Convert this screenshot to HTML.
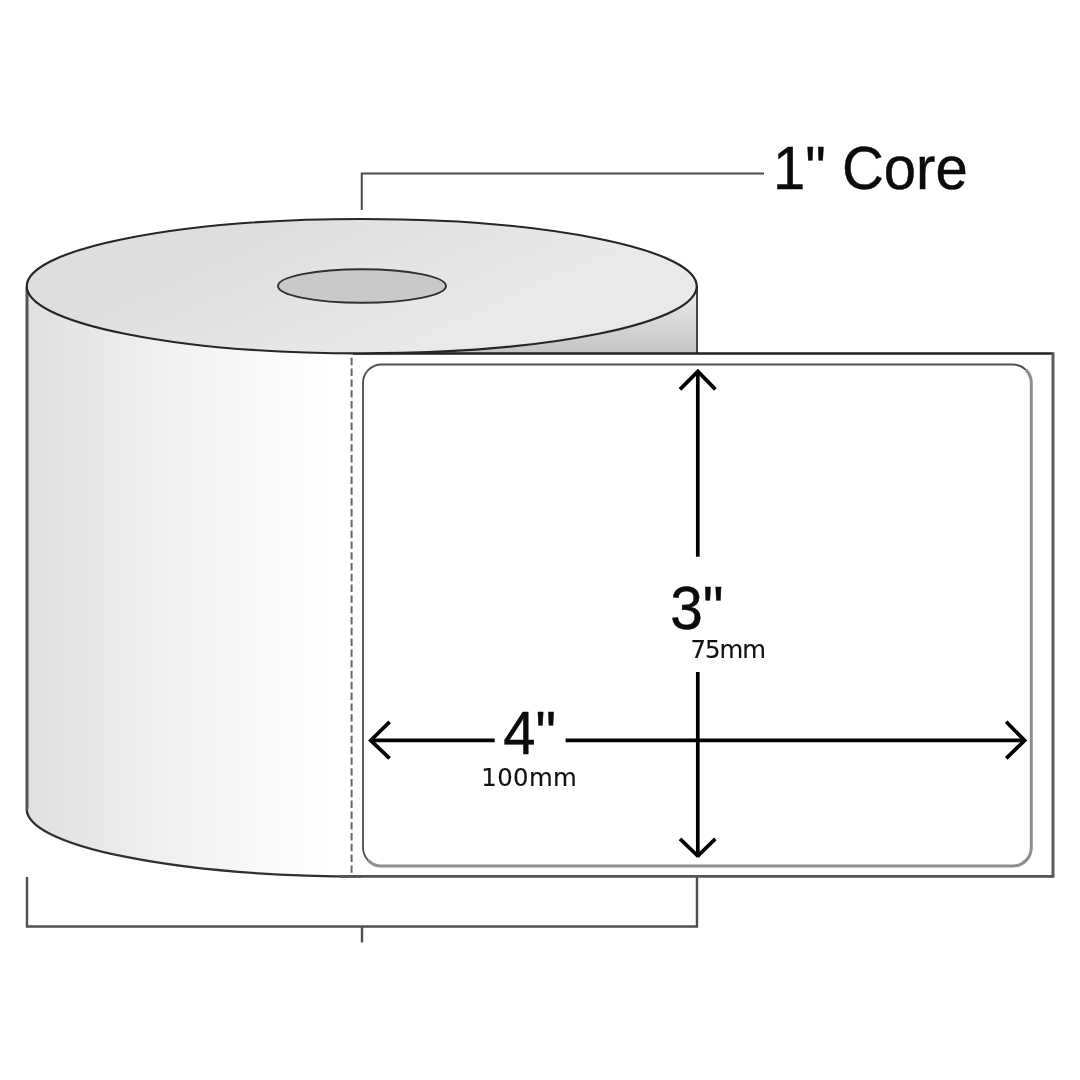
<!DOCTYPE html>
<html lang="en">
<head>
<meta charset="utf-8">
<title>Label roll 4" x 3" – 1" Core</title>
<style>
html,body{margin:0;padding:0;background:#fff;}
body{width:1080px;height:1080px;overflow:hidden;}
svg{display:block;}
.big{font-family:"Liberation Sans",Arial,Helvetica,sans-serif;font-size:58px;fill:#0a0a0a;stroke:#0a0a0a;stroke-width:0.45px;}
.small{font-family:"DejaVu Sans","Liberation Sans",sans-serif;font-size:24.4px;fill:#111;stroke:#111;stroke-width:0.15px;}
</style>
</head>
<body>
<svg width="1080" height="1080" viewBox="0 0 1080 1080">
  <defs>
    <linearGradient id="gBody" gradientUnits="userSpaceOnUse" x1="26" y1="0" x2="325" y2="0">
      <stop offset="0" stop-color="#e0e0e0"/>
      <stop offset="0.45" stop-color="#f0f0f0"/>
      <stop offset="1" stop-color="#ffffff"/>
    </linearGradient>
    <linearGradient id="gTop" gradientUnits="userSpaceOnUse" x1="300" y1="212" x2="365" y2="358">
      <stop offset="0" stop-color="#dedede"/>
      <stop offset="1" stop-color="#e9e9e9"/>
    </linearGradient>
    <linearGradient id="gShade" gradientUnits="userSpaceOnUse" x1="0" y1="292" x2="0" y2="353">
      <stop offset="0" stop-color="#ebebeb"/>
      <stop offset="1" stop-color="#c4c4c4"/>
    </linearGradient>
  </defs>
  <rect width="1080" height="1080" fill="#fff"/>

  <!-- roll body -->
  <path d="M26.75 286 L26.75 809.2 A335 67.2 0 0 0 361.75 876.4 L362 286 Z" fill="url(#gBody)"/>

  <!-- shaded wedge behind label -->
  <path d="M362 286 L697 286 L697 353 L362 353 Z" fill="url(#gShade)"/>
  <path d="M697 286 L697 353" stroke="#333" stroke-width="1.8" fill="none"/>

  <!-- outer label (liner) -->
  <path d="M352 353 L1053 353 L1053 876.5 L352 876.5" fill="#fff" stroke="none"/>
  <path d="M27 287 L27 809.2" fill="none" stroke="#555" stroke-width="3"/>
  <path d="M26.75 809.2 A335 67.2 0 0 0 361.75 876.4" fill="none" stroke="#303030" stroke-width="2.3"/>
  <path d="M353 353.5 L1053 353.5" fill="none" stroke="#222" stroke-width="2.4"/>
  <path d="M1053 352.3 L1053 877.75" fill="none" stroke="#5c5c5c" stroke-width="3"/>
  <path d="M340 876.4 L1053 876.4" fill="none" stroke="#525252" stroke-width="2.7"/>

  <!-- top ellipse -->
  <ellipse cx="361.75" cy="286.2" rx="335" ry="67.2" fill="url(#gTop)" stroke="#262626" stroke-width="2.15"/>
  <!-- core -->
  <ellipse cx="362" cy="286" rx="84" ry="16.8" fill="#c9c9c9" stroke="#303030" stroke-width="1.9"/>

  <!-- perforation -->
  <path d="M351.6 357.8 L351.6 874" stroke="#666" stroke-width="2" stroke-dasharray="7.4 3.4" fill="none"/>

  <!-- inner label -->
  <rect x="363" y="364.5" width="668.3" height="501.5" rx="18.5" ry="18.5" fill="#fff" stroke="none"/>
  <path d="M368.42 860.58 A18.5 18.5 0 0 1 363 847.5 L363 383 A18.5 18.5 0 0 1 381.5 364.5 L1012.8 364.5 A18.5 18.5 0 0 1 1025.9 369.9" fill="none" stroke="#505050" stroke-width="1.85"/>
  <path d="M1025.9 369.9 A18.5 18.5 0 0 1 1031.3 383 L1031.3 847.5 A18.5 18.5 0 0 1 1012.8 866 L381.5 866 A18.5 18.5 0 0 1 368.42 860.58" fill="none" stroke="#8e8e8e" stroke-width="3"/>

  <!-- core leader -->
  <path d="M361.75 210 L361.75 173.5 L764 173.5" fill="none" stroke="#4a4a4a" stroke-width="2"/>
  <!-- bottom bracket -->
  <path d="M27 877 L27 926.5 L697 926.5 L697 877" fill="none" stroke="#505050" stroke-width="2.4"/>
  <path d="M362 926.5 L362 942.5" fill="none" stroke="#505050" stroke-width="2.4"/>

  <!-- dimension arrows -->
  <g fill="none" stroke="#000" stroke-width="3.7">
    <path d="M697.8 370.5 L697.8 556.7"/>
    <path d="M697.8 672 L697.8 857.3"/>
    <path d="M680 389.4 L697.9 371.4 L715.4 389.4"/>
    <path d="M680 838.9 L697.8 856 L715.3 838.9" stroke-linejoin="bevel"/>
    <path d="M370.7 740.4 L494.7 740.4"/>
    <path d="M565.6 740.4 L1024.6 740.4"/>
    <path d="M389.6 721.9 L370.7 740.4 L389.6 758.3"/>
    <path d="M1006.2 721.8 L1024.6 740.5 L1006.2 758.4"/>
  </g>

  <!-- text -->
  <g opacity="0.995">
  <text class="big" transform="translate(773 188.8) scale(1 1.06)">1" Core</text>
  <text class="big" transform="translate(670.3 629) scale(1.01 1.06)">3"</text>
  <text class="big" transform="translate(503.3 753.8) scale(1 1.055)">4"</text>
  <text class="small" transform="translate(690.5 657.9) scale(1 1.02)" textLength="75.5" lengthAdjust="spacing">75mm</text>
  <text class="small" transform="translate(481.3 786.2) scale(1 1.02)" textLength="95.5" lengthAdjust="spacing">100mm</text>
  </g>
</svg>
</body>
</html>
